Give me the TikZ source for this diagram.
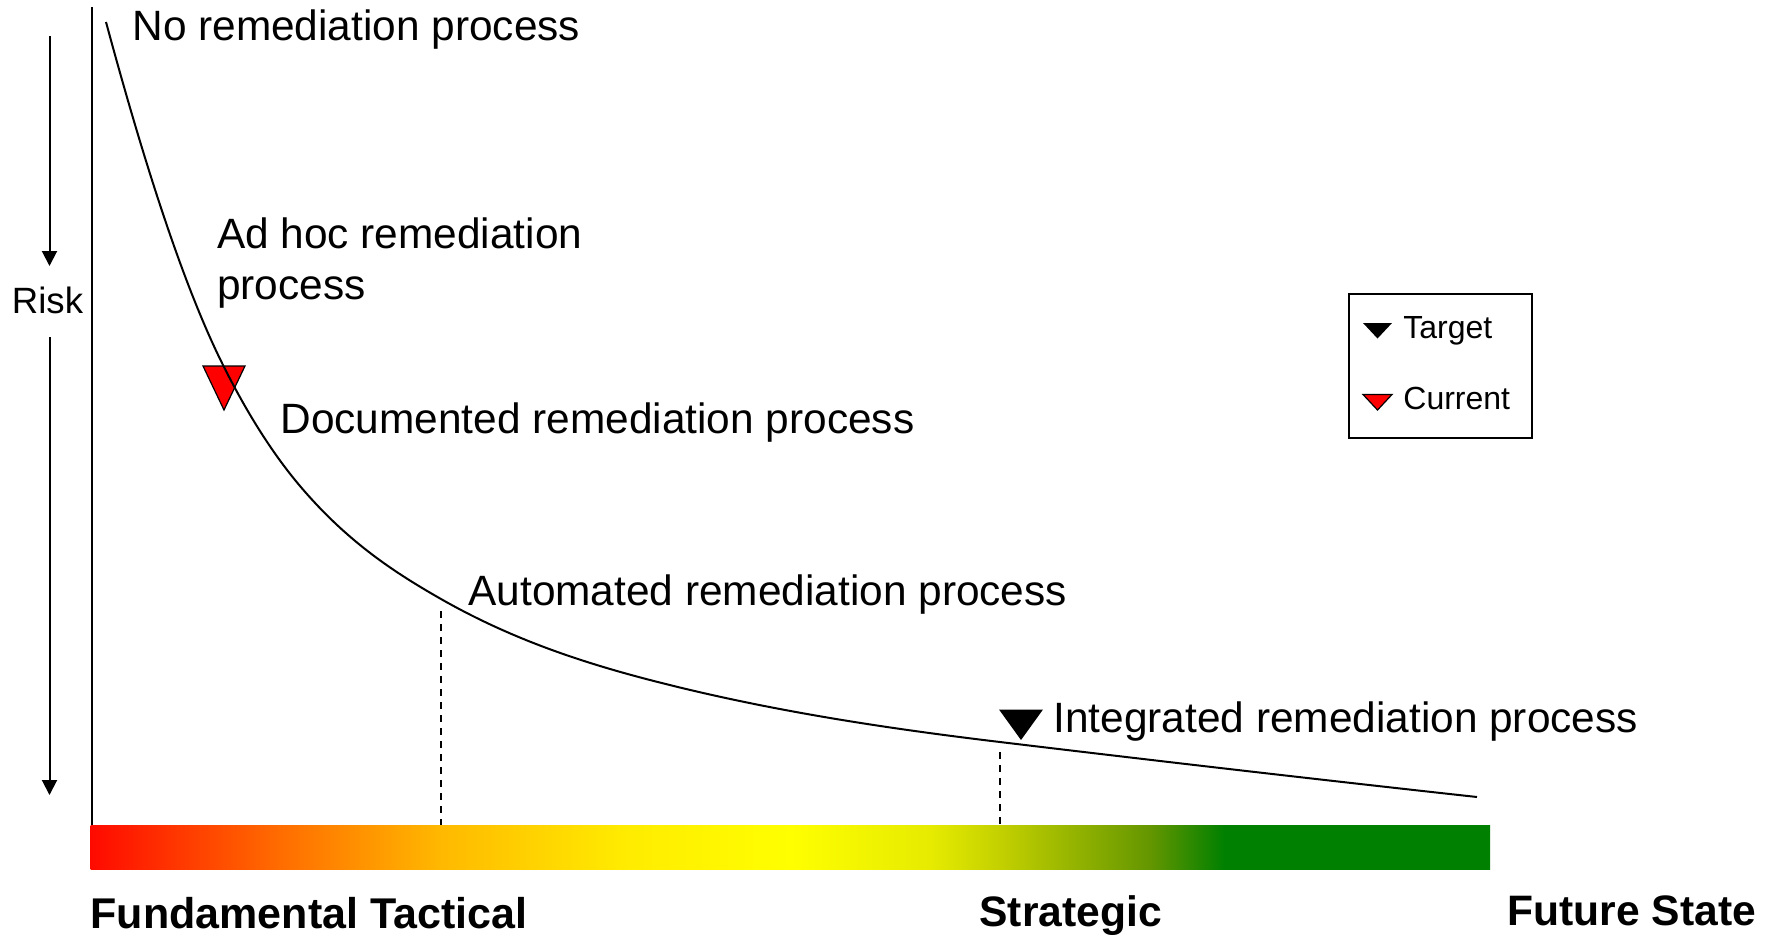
\documentclass[tikz,border=0pt]{standalone}
\usepackage{fontspec}
\setmainfont{Liberation Sans}
\usetikzlibrary{arrows.meta}
\definecolor{gA}{RGB}{255,10,0}
\definecolor{gB}{RGB}{255,110,0}
\definecolor{gC}{RGB}{255,185,0}
\definecolor{gD}{RGB}{255,235,0}
\definecolor{gE}{RGB}{255,255,0}
\definecolor{gF}{RGB}{230,235,0}
\definecolor{gG}{RGB}{195,208,0}
\definecolor{gH}{RGB}{100,150,0}
\definecolor{gI}{RGB}{0,128,0}
\definecolor{markred}{RGB}{255,0,0}
\pgfdeclarehorizontalshading{riskbar}{100bp}{color(0bp)=(gA); color(25bp)=(gA); color(31.9bp)=(gB); color(37.55bp)=(gC); color(44bp)=(gD); color(50bp)=(gE); color(55bp)=(gF); color(57.5bp)=(gG); color(62.85bp)=(gH); color(65.5bp)=(gI); color(75bp)=(gI); color(100bp)=(gI)}
\tikzset{
  lbl/.style={anchor=base west, inner sep=0pt, font=\fontsize{21.2}{24.7}\selectfont},
  risklbl/.style={anchor=base west, inner sep=0pt, font=\fontsize{18.3}{21}\selectfont},
  leglbl/.style={anchor=base west, inner sep=0pt, font=\fontsize{16}{19}\selectfont},
  stagelbl/.style={anchor=base west, inner sep=0pt, font=\bfseries\fontsize{21.3}{25}\selectfont},
  thin line/.style={line width=1pt, black},
  riskarrow/.style={line width=1pt, -{Triangle[width=7.5pt,length=7.5pt]}},
  guide/.style={line width=1pt, dash pattern=on 3.5pt off 3pt},
  curve/.style={line width=1pt, line join=round},
}
\begin{document}
\begin{tikzpicture}[x=0.5pt,y=-0.5pt]
\useasboundingbox (0,0) rectangle (1776,938);

% colour bar
\shade[shading=riskbar] (90.6,825) rectangle (1490,869);

% vertical axis
\coordinate (axtop) at (91.8,7);
\coordinate (axbot) at (91.8,825);
\draw[thin line] (axtop) -- (axbot);

% risk arrows and label
\node[risklbl] (risk) at (11.5,313) {Risk};
\coordinate (ra1) at (49.5,36);
\coordinate (ra1e) at (49.5,266);
\coordinate (ra2) at (49.5,337);
\coordinate (ra2e) at (49.5,795);
\draw[riskarrow] (ra1) -- (ra1e);
\draw[riskarrow] (ra2) -- (ra2e);

% red current marker (below the curve)
\filldraw[fill=markred, draw=black, line width=0.6pt] (203,366) -- (245,366) -- (224,410) -- cycle;

% curve (piecewise cubic, tangent-continuous)
\coordinate (k0) at (106,22);
\coordinate (k1) at (223,365);
\coordinate (k2) at (300,486);
\coordinate (k3) at (441,599);
\coordinate (k4) at (650,680);
\coordinate (k5) at (1000,742);
\coordinate (k6) at (1477,797);
\draw[curve] (k0)
  .. controls (145,166.3) and (184,287) .. (k1)
  .. controls (248.67,416.33) and (274.33,455.71) .. (k2)
  .. controls (347,541.46) and (394,572.21) .. (k3)
  .. controls (510.67,638.71) and (580.33,661.89) .. (k4)
  .. controls (766.67,710.33) and (883.33,728) .. (k5)
  .. controls (1159,761.08) and (1318,779.51) .. (k6);

% dashed guides
\coordinate (c1) at (441,611);
\coordinate (b1) at (441,825);
\coordinate (c2) at (1000,752);
\coordinate (b2) at (1000,825);
\draw[guide] (c1) -- (b1);
\draw[guide] (c2) -- (b2);

% black target marker
\fill[black] (999,709.5) -- (1043,709.5) -- (1021,740) -- cycle;

% labels
\node[lbl] (no) at (132,40.7) {No remediation process};
\node[lbl] (adhoc1) at (216.6,248) {Ad hoc remediation};
\node[lbl] (adhoc2) at (216.6,299.5) {process};
\node[lbl] (doc) at (280,433) {Documented remediation process};
\node[lbl] (auto) at (468,605) {Automated remediation process};
\node[lbl] (integ) at (1053,732.7) {Integrated remediation process};

% legend
\draw[line width=1pt] (1349.3,294.3) rectangle (1531.7,438.3);
\fill[black] (1363,323) -- (1392,323) -- (1377.5,338.5) -- cycle;
\filldraw[fill=markred, draw=black, line width=0.6pt] (1363,394.5) -- (1392,394.5) -- (1377.5,410) -- cycle;
\node[leglbl] (target) at (1403,338.3) {Target};
\node[leglbl] (current) at (1403,409.3) {Current};

% stage labels
\node[stagelbl, font=\bfseries\fontsize{21.5}{25}\selectfont] (fund) at (90.2,928.5) {Fundamental Tactical};
\node[stagelbl] (strat) at (979,926.7) {Strategic};
\node[stagelbl] (future) at (1507,925.7) {Future State};
\end{tikzpicture}
\end{document}
